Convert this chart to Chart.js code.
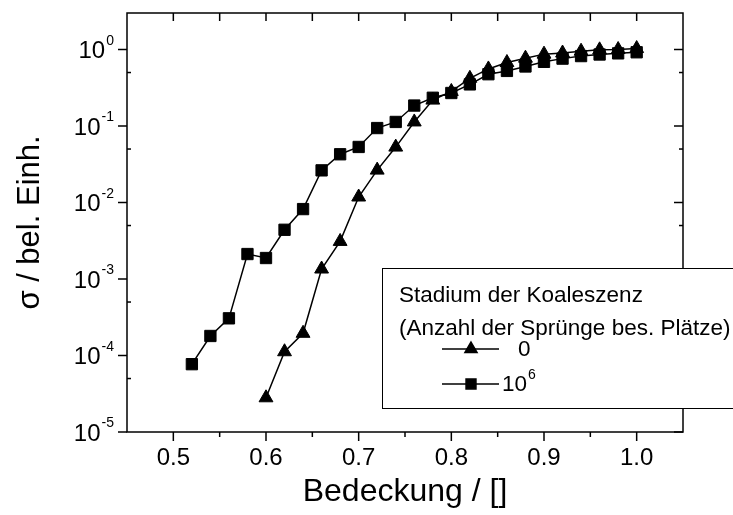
<!DOCTYPE html>
<html>
<head>
<meta charset="utf-8">
<script src="https://cdn.jsdelivr.net/npm/chart.js@4.4.0/dist/chart.umd.min.js"></script>
<style>
  html, body { margin: 0; padding: 0; background: #fff; }
</style>
</head>
<body>
<canvas id="chart" width="733" height="515"></canvas>
<script>
// Bedeckung (x) und σ (y) für beide Stadien
const coverageStage0 = [0.60, 0.62, 0.64, 0.66, 0.68, 0.70, 0.72, 0.74, 0.76, 0.78, 0.80,
                        0.82, 0.84, 0.86, 0.88, 0.90, 0.92, 0.94, 0.96, 0.98, 1.00];
const sigmaStage0 = [2.8e-5, 1.12e-4, 1.95e-4, 1.35e-3, 3.1e-3, 0.0118, 0.0265, 0.053, 0.113, 0.218, 0.283,
                     0.42, 0.557, 0.676, 0.77, 0.87, 0.90, 0.95, 0.99, 1.0, 1.03];

const coverageStage6 = [0.52, 0.54, 0.56, 0.58, 0.60, 0.62, 0.64, 0.66, 0.68, 0.70, 0.72, 0.74, 0.76,
                        0.78, 0.80, 0.82, 0.84, 0.86, 0.88, 0.90, 0.92, 0.94, 0.96, 0.98, 1.00];
const sigmaStage6 = [7.7e-5, 1.8e-4, 3.06e-4, 2.12e-3, 1.88e-3, 4.4e-3, 8.2e-3, 0.0263, 0.0427, 0.0532, 0.094, 0.113, 0.185,
                     0.234, 0.27, 0.35, 0.475, 0.525, 0.60, 0.69, 0.76, 0.82, 0.86, 0.89, 0.92];

// Achsen
const xTicks = [0.5, 0.6, 0.7, 0.8, 0.9, 1.0];
const xMinorTicks = [0.55, 0.65, 0.75, 0.85, 0.95];
const yTicks = [1e-5, 1e-4, 1e-3, 1e-2, 1e-1, 1e0];
const yMinorTicks = [5e-5, 5e-4, 5e-3, 5e-2, 5e-1];

// Legende: Basis und Exponent getrennt (hochgestellt gezeichnet)
const seriesLabels = ['0', '10^6'];
const legendTitle = ['Stadium der Koaleszenz', '(Anzahl der Sprünge bes. Plätze)'];

const FONT = '"Liberation Sans", Arial, Helvetica, sans-serif';

function toPoints(xs, ys) {
    return xs.map((x, i) => ({ x: x, y: ys[i] }));
}

// Text wie "10^-3" mit kleinem, hochgestelltem Exponenten
function drawPower(ctx, text, x, y, size, alignRight) {
    const parts = text.split('^');
    const base = parts[0], exp = parts[1] || '';
    const expSize = Math.round(size * 0.6);
    ctx.font = size + 'px ' + FONT;
    const wBase = ctx.measureText(base).width;
    ctx.font = expSize + 'px ' + FONT;
    const wExp = ctx.measureText(exp).width;
    let left = alignRight ? x - wBase - wExp - 1 : x;
    ctx.textAlign = 'left';
    ctx.textBaseline = 'middle';
    ctx.font = size + 'px ' + FONT;
    ctx.fillText(base, left, y);
    if (exp) {
        ctx.font = expSize + 'px ' + FONT;
        ctx.fillText(exp, left + wBase + 1, y - size * 0.45);
    }
}

// Rahmen mit Ticks auf allen vier Seiten
const framePlugin = {
    id: 'frame',
    beforeDatasetsDraw(chart) {
        const { ctx, chartArea: a, scales } = chart;
        const xs = scales.x, ys = scales.y;
        ctx.save();
        ctx.strokeStyle = '#000';
        ctx.lineWidth = 1.5;
        ctx.strokeRect(a.left, a.top, a.right - a.left, a.bottom - a.top);

        const tick = (x1, y1, x2, y2) => {
            ctx.beginPath();
            ctx.moveTo(x1, y1);
            ctx.lineTo(x2, y2);
            ctx.stroke();
        };
        xTicks.forEach(v => {
            const px = xs.getPixelForValue(v);
            tick(px, a.bottom, px, a.bottom + 9);
            tick(px, a.top, px, a.top + 8);
        });
        xMinorTicks.forEach(v => {
            const px = xs.getPixelForValue(v);
            tick(px, a.bottom, px, a.bottom + 5);
            tick(px, a.top, px, a.top + 8);
        });
        yTicks.forEach(v => {
            const py = ys.getPixelForValue(v);
            tick(a.left - 9, py, a.left, py);
            tick(a.right - 9, py, a.right, py);
        });
        yMinorTicks.forEach(v => {
            const py = ys.getPixelForValue(v);
            tick(a.left, py, a.left + 4, py);
            tick(a.right - 4, py, a.right, py);
        });

        // Beschriftung der log-Achse als 10 hoch n
        ctx.fillStyle = '#000';
        yTicks.forEach(v => {
            const py = ys.getPixelForValue(v);
            drawPower(ctx, '10^' + Math.round(Math.log10(v)), a.left - 13, py + 2, 24, true);
        });
        ctx.restore();
    }
};

// Legende als Kasten im Diagramm
const legendBoxPlugin = {
    id: 'legendBox',
    afterDraw(chart) {
        const ctx = chart.ctx;
        ctx.save();
        ctx.fillStyle = '#fff';
        ctx.fillRect(382, 268, 360, 141);
        ctx.strokeStyle = '#000';
        ctx.lineWidth = 1;
        ctx.strokeRect(382.5, 268.5, 360, 140);

        ctx.fillStyle = '#000';
        ctx.font = '22.5px ' + FONT;
        ctx.textBaseline = 'alphabetic';
        ctx.textAlign = 'left';
        ctx.fillText(legendTitle[0], 399, 302);
        ctx.fillText(legendTitle[1], 399, 335);

        const rows = [349, 384];
        const textX = [518, 502];
        chart.data.datasets.forEach((ds, i) => {
            const y = rows[i];
            ctx.strokeStyle = '#000';
            ctx.lineWidth = 1.5;
            ctx.beginPath();
            ctx.moveTo(442, y);
            ctx.lineTo(499, y);
            ctx.stroke();
            ctx.fillStyle = '#000';
            Chart.helpers.drawPoint(ctx, { pointStyle: ds.pointStyle, radius: 7, borderWidth: 1, rotation: 0 }, 471, y);
            ctx.fillStyle = '#000';
            drawPower(ctx, ds.label, textX[i], y + 1, 22.5, false);
        });
        ctx.restore();
    }
};

const ctx = document.getElementById('chart').getContext('2d');
new Chart(ctx, {
    type: 'line',
    data: {
        datasets: [
            {
                label: seriesLabels[0],
                data: toPoints(coverageStage0, sigmaStage0),
                borderColor: '#000',
                backgroundColor: '#000',
                borderWidth: 1.5,
                pointStyle: 'triangle',
                pointRadius: 8,
                pointBorderWidth: 1,
                tension: 0
            },
            {
                label: seriesLabels[1],
                data: toPoints(coverageStage6, sigmaStage6),
                borderColor: '#000',
                backgroundColor: '#000',
                borderWidth: 1.5,
                pointStyle: 'rect',
                pointRadius: 8,
                pointBorderWidth: 1,
                tension: 0
            }
        ]
    },
    options: {
        responsive: false,
        animation: false,
        layout: { padding: { top: 13, right: 50, left: 0, bottom: 0 } },
        plugins: {
            legend: { display: false },
            tooltip: { enabled: false }
        },
        scales: {
            x: {
                type: 'linear',
                min: 0.45,
                max: 1.05,
                grid: { display: false, drawTicks: false },
                border: { display: false },
                afterBuildTicks: (scale) => { scale.ticks = xTicks.map(v => ({ value: v })); },
                afterFit: (scale) => { scale.height = 83; },
                ticks: {
                    padding: 12,
                    color: '#000',
                    font: { family: FONT, size: 24 },
                    maxRotation: 0,
                    callback: (v) => Number(v).toFixed(1)
                },
                title: {
                    display: true,
                    text: 'Bedeckung / []',
                    color: '#000',
                    font: { family: FONT, size: 32 },
                    padding: { top: 0, bottom: 4 }
                }
            },
            y: {
                type: 'logarithmic',
                min: 1e-5,
                max: 3,
                grid: { display: false, drawTicks: false },
                border: { display: false },
                afterBuildTicks: (scale) => { scale.ticks = yTicks.map(v => ({ value: v })); },
                afterFit: (scale) => { scale.width = 127; },
                ticks: { display: false },
                title: {
                    display: true,
                    text: 'σ / bel. Einh.',
                    color: '#000',
                    font: { family: FONT, size: 31 },
                    padding: { top: 12, bottom: 0 }
                }
            }
        }
    },
    plugins: [framePlugin, legendBoxPlugin]
});
</script>
</body>
</html>
